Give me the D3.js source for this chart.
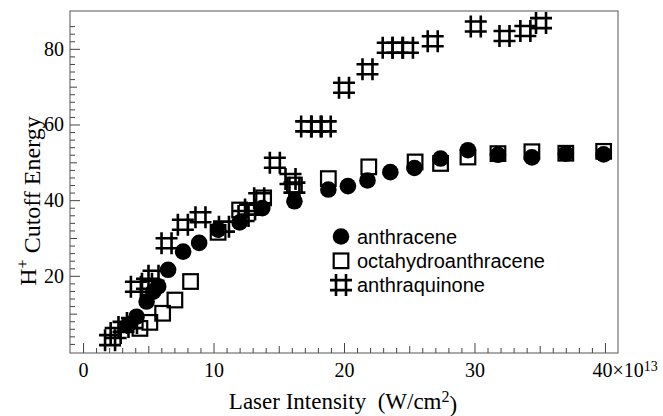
<!DOCTYPE html>
<html>
<head>
<meta charset="utf-8">
<script src="https://cdn.jsdelivr.net/npm/d3@7"></script>
<style>
  body { margin: 0; background: #fff; }
</style>
</head>
<body>
<div id="chart"></div>
<script>
// values (x in units of 10^13 W/cm^2, y = H+ cutoff energy)
const anthraceneX = [3.46, 4.1, 4.87, 5.38, 5.76, 6.52, 7.67, 8.9, 10.35, 12.0, 13.74, 16.2, 18.8, 20.3, 21.8, 23.55, 25.4, 27.4, 29.5, 31.8, 34.4, 37.0, 39.9];
const anthraceneY = [7.0, 9.2, 13.2, 15.8, 17.2, 21.6, 26.4, 28.7, 32.2, 34.1, 37.9, 39.7, 42.8, 43.7, 45.2, 47.4, 48.5, 51.0, 53.2, 52.0, 51.3, 52.3, 52.1];

const octaX = [4.36, 5.12, 6.1, 7.04, 8.24, 10.35, 12.0, 13.84, 16.2, 18.8, 21.9, 25.45, 27.4, 29.5, 31.8, 34.4, 37.0, 39.9];
const octaY = [6.1, 7.7, 10.1, 13.6, 18.5, 31.5, 37.4, 40.6, 44.0, 45.7, 48.8, 50.1, 49.7, 51.4, 52.3, 52.8, 52.4, 52.9];

const quinoneX = [2.07, 2.5, 3.1, 3.75, 4.05, 4.9, 5.4, 6.4, 7.65, 9.0, 10.8, 12.3, 12.8, 13.5, 14.7, 15.9, 16.2, 17.1, 17.9, 18.6, 20.0, 21.8, 23.35, 24.1, 24.9, 26.8, 30.1, 32.3, 33.9, 35.1];
const quinoneY = [3.0, 4.9, 6.5, 7.5, 17.1, 17.9, 20.0, 28.6, 33.5, 35.5, 33.0, 35.8, 37.5, 40.5, 49.9, 45.6, 43.3, 59.5, 59.5, 59.5, 69.7, 74.6, 80.3, 80.3, 80.3, 82.0, 85.9, 83.4, 84.7, 86.8];

const seriesNames = ["anthracene", "octahydroanthracene", "anthraquinone"];
const xTicks = [0, 10, 20, 30, 40];
const yTicks = [20, 40, 60, 80];

const width = 663;
const height = 416;
const margin = { top: 11, right: 45, bottom: 63, left: 70 };

const svg = d3.select("#chart")
    .append("svg")
    .attr("width", width)
    .attr("height", height);

// scales
const xScale = d3.scaleLinear()
    .domain([-1, 41])
    .range([margin.left, width - margin.right]);

const yScale = d3.scaleLinear()
    .domain([-0.4, 90])
    .range([height - margin.bottom, margin.top]);

const serif = "'Liberation Serif', 'Times New Roman', serif";
const sans = "'Liberation Sans', Arial, sans-serif";
const axisColor = "#444";

// minor / medium ticks first
function ticksX(values, size) {
    const g = svg.append("g")
        .attr("transform", `translate(0,${height - margin.bottom})`)
        .call(d3.axisBottom(xScale).tickValues(values).tickSize(-size).tickFormat(""));
    g.select(".domain").remove();
    g.selectAll("line").attr("stroke", axisColor);
    return g;
}
function ticksY(values, size) {
    const g = svg.append("g")
        .attr("transform", `translate(${margin.left},0)`)
        .call(d3.axisLeft(yScale).tickValues(values).tickSize(-size).tickFormat(""));
    g.select(".domain").remove();
    g.selectAll("line").attr("stroke", axisColor);
    return g;
}
ticksX(d3.range(0, 41, 1).filter(d => d % 5 !== 0), 5);
ticksX(d3.range(5, 41, 10), 7);
ticksY(d3.range(2, 88, 2).filter(d => d % 10 !== 0), 5);
ticksY([10, 30, 50, 70], 7);

// major ticks with labels
const xAxis = svg.append("g")
    .attr("transform", `translate(0,${height - margin.bottom})`)
    .call(d3.axisBottom(xScale).tickValues(xTicks).tickSize(-10).tickPadding(10)
        .tickFormat(d => d === 40 ? "40×10" : d));
xAxis.select(".domain").remove();
xAxis.selectAll("line").attr("stroke", axisColor);
xAxis.selectAll("text")
    .attr("fill", "#000")
    .style("font-family", serif)
    .style("font-size", "20px");
xAxis.selectAll(".tick")
    .filter(d => d === 40)
    .select("text")
    .attr("text-anchor", "start")
    .attr("x", -13)
    .append("tspan")
    .attr("dy", "-0.45em")
    .style("font-size", "14px")
    .text("13");

const yAxis = svg.append("g")
    .attr("transform", `translate(${margin.left},0)`)
    .call(d3.axisLeft(yScale).tickValues(yTicks).tickSize(-10).tickPadding(6));
yAxis.select(".domain").remove();
yAxis.selectAll("line").attr("stroke", axisColor);
yAxis.selectAll("text")
    .attr("fill", "#000")
    .style("font-family", serif)
    .style("font-size", "20px");

// frame
svg.append("rect")
    .attr("x", margin.left)
    .attr("y", margin.top)
    .attr("width", width - margin.left - margin.right)
    .attr("height", height - margin.top - margin.bottom)
    .attr("fill", "none")
    .attr("stroke", "#555")
    .attr("stroke-width", 1);

// markers
const hashPath = "M-5,-11V11M5,-11V11M-11,-5H11M-11,5H11";

function drawCircle(g, x, y) {
    g.append("circle").attr("cx", x).attr("cy", y).attr("r", 8.3).attr("fill", "#000");
}
function drawSquare(g, x, y) {
    g.append("rect").attr("x", x - 7.3).attr("y", y - 7.3)
        .attr("width", 14.6).attr("height", 14.6)
        .attr("fill", "none").attr("stroke", "#000").attr("stroke-width", 2.2);
}
function drawHash(g, x, y) {
    g.append("path").attr("d", hashPath)
        .attr("transform", `translate(${x},${y})`)
        .attr("fill", "none").attr("stroke", "#000").attr("stroke-width", 2.6);
}

const marks = svg.append("g");
anthraceneX.forEach((d, i) => drawCircle(marks, xScale(d), yScale(anthraceneY[i])));
octaX.forEach((d, i) => drawSquare(marks, xScale(d), yScale(octaY[i])));
quinoneX.forEach((d, i) => drawHash(marks, xScale(d), yScale(quinoneY[i])));

// legend
const legend = svg.append("g");
const drawers = [drawCircle, drawSquare, drawHash];
seriesNames.forEach((name, i) => {
    const ly = 236.5 + i * 24.3;
    drawers[i](legend, 341, ly);
    legend.append("text")
        .attr("x", 357)
        .attr("y", ly)
        .attr("dy", "0.36em")
        .style("font-family", sans)
        .style("font-size", "20px")
        .text(name);
});

// axis titles
const xTitle = svg.append("text")
    .attr("x", 343)
    .attr("y", 409)
    .attr("text-anchor", "middle")
    .style("font-family", serif)
    .style("font-size", "23px");
xTitle.append("tspan").text("Laser Intensity\u00a0\u00a0(W/cm");
xTitle.append("tspan").attr("dy", "-0.45em").style("font-size", "16px").text("2");
xTitle.append("tspan").attr("dy", "0.45em").text(")");

const yTitle = svg.append("text")
    .attr("transform", "rotate(-90)")
    .attr("x", -201)
    .attr("y", 36)
    .attr("text-anchor", "middle")
    .style("font-family", serif)
    .style("font-size", "24px");
yTitle.append("tspan").text("H");
yTitle.append("tspan").attr("dy", "-0.5em").style("font-size", "16px").text("+");
yTitle.append("tspan").attr("dy", "0.5em").text(" Cutoff Energy");
</script>
</body>
</html>
